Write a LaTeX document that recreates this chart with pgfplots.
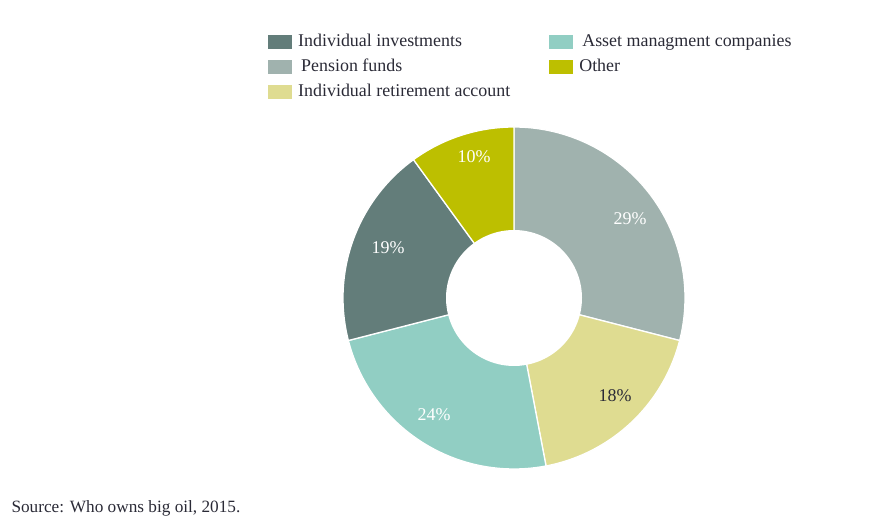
\documentclass[border=0pt]{standalone}
\usepackage{fontspec}
\setmainfont{Liberation Serif}
\usepackage{pgfplots}
\pgfplotsset{compat=1.18}
\definecolor{pension}{HTML}{A0B2AE}
\definecolor{ira}{HTML}{DFDC91}
\definecolor{asset}{HTML}{91CEC3}
\definecolor{indiv}{HTML}{637D7A}
\definecolor{other}{HTML}{BDBF00}
\definecolor{textc}{HTML}{2A2A36}
\pgfplotsset{legend image code/.code={\fill[#1, draw=none] (0bp,-7bp) rectangle (24bp,7bp);}}
\begin{document}
\begin{tikzpicture}
\begin{axis}[
  x=1bp, y=1bp, xmin=0, xmax=874, ymin=0, ymax=518,
  hide axis, clip=false,
  legend columns=2, legend cell align=left,
  legend style={at={(axis cs:265,488)}, anchor=north west, draw=none, fill=none,
    font=\fontsize{18}{20}\selectfont, text=textc, row sep=5bp,
    nodes={inner sep=2bp, text height=12bp, text depth=4bp},
    /tikz/every odd column/.append style={column sep=4bp},
    /tikz/every even column/.append style={column sep=37bp}},
]
% shares in percent, clockwise from top: Pension 29, IRA 18, Asset 24, Individual 19, Other 10
\addplot[forget plot, fill=pension, draw=white, line width=1.3pt, domain={90-360*29/100}:90, samples=90]
  ({514+171*cos(x)},{220+171*sin(x)}) -- (axis cs:514,220) -- cycle;
\addplot[forget plot, fill=ira, draw=white, line width=1.3pt, domain={90-360*47/100}:{90-360*29/100}, samples=60]
  ({514+171*cos(x)},{220+171*sin(x)}) -- (axis cs:514,220) -- cycle;
\addplot[forget plot, fill=asset, draw=white, line width=1.3pt, domain={90-360*71/100}:{90-360*47/100}, samples=80]
  ({514+171*cos(x)},{220+171*sin(x)}) -- (axis cs:514,220) -- cycle;
\addplot[forget plot, fill=indiv, draw=white, line width=1.3pt, domain={90-360*90/100}:{90-360*71/100}, samples=60]
  ({514+171*cos(x)},{220+171*sin(x)}) -- (axis cs:514,220) -- cycle;
\addplot[forget plot, fill=other, draw=white, line width=1.3pt, domain={90-360*100/100}:{90-360*90/100}, samples=40]
  ({514+171*cos(x)},{220+171*sin(x)}) -- (axis cs:514,220) -- cycle;
% hole
\addplot[forget plot, fill=white, draw=none, domain=0:360, samples=120]
  ({514+68*cos(x)},{220+68*sin(x)}) -- cycle;

\addlegendimage{fill=indiv}\addlegendentry{Individual investments}
\addlegendimage{fill=asset}\addlegendentry{\,Asset managment companies}
\addlegendimage{fill=pension}\addlegendentry{\,Pension funds}
\addlegendimage{fill=other}\addlegendentry{Other}
\addlegendimage{fill=ira}\addlegendentry{Individual retirement account}

\begin{scope}[font=\fontsize{18}{20}\selectfont]
\node[text=white] at (axis cs:630,299) {29\%};
\node[text=textc] at (axis cs:615,122) {18\%};
\node[text=white] at (axis cs:434,103) {24\%};
\node[text=white] at (axis cs:388,270) {19\%};
\node[text=white] at (axis cs:474,361) {10\%};
\end{scope}
\node[anchor=base west, text=textc, font=\fontsize{17.3}{20}\selectfont] at (axis cs:8,5) {Source: Who owns big oil, 2015.};
\path (rel axis cs:0,0) rectangle (rel axis cs:1,1);
\end{axis}
\end{tikzpicture}
\end{document}
